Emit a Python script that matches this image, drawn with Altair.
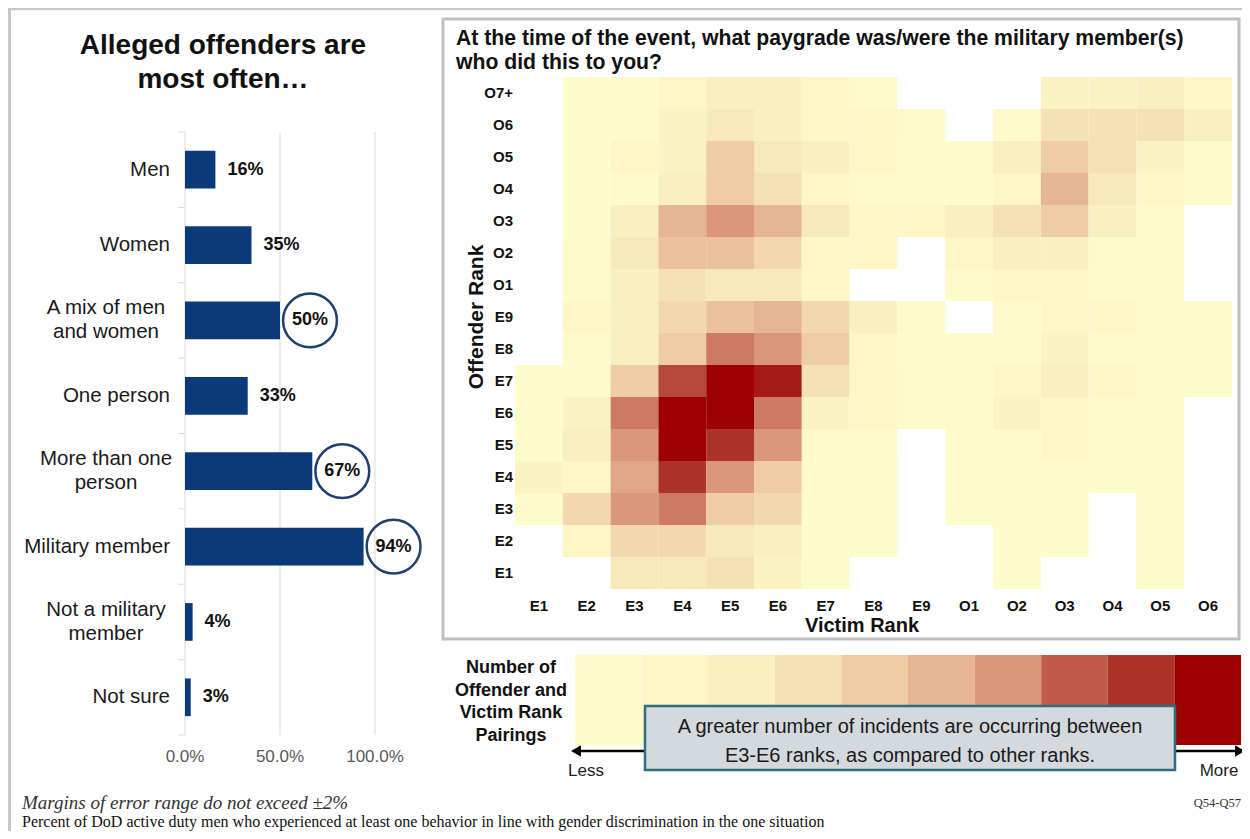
import altair as alt
import pandas as pd

# ---------------- Left panel data ----------------
CATEGORIES = ["Men", "Women", "A mix of men and women", "One person",
              "More than one person", "Military member", "Not a military member", "Not sure"]
CATEGORY_LABELS = ["Men", "Women", "A mix of men\nand women", "One person",
                   "More than one\nperson", "Military member", "Not a military\nmember", "Not sure"]
PERCENTS = [16, 35, 50, 33, 67, 94, 4, 3]
CIRCLED = ["A mix of men and women", "More than one person", "Military member"]
AXIS_VALUES = [0, 50, 100]
AXIS_LABELS = ["0.0%", "50.0%", "100.0%"]

# ---------------- Heatmap data ----------------
VICTIM_RANKS = ["E1", "E2", "E3", "E4", "E5", "E6", "E7", "E8", "E9",
                "O1", "O2", "O3", "O4", "O5", "O6"]
OFFENDER_RANKS = ["O7+", "O6", "O5", "O4", "O3", "O2", "O1", "E9",
                  "E8", "E7", "E6", "E5", "E4", "E3", "E2", "E1"]
# relative pairing intensity (1 = least ... 10 = most, 0 = none), columns E1..O6
ROW_O7P = [0, 1, 1, 2, 3, 3, 2, 1.5, 0, 0, 0, 2.5, 2.5, 3, 2]
ROW_O6 = [0, 1, 1, 2.5, 3.5, 3, 2, 2, 1.5, 0, 1.5, 4, 4, 4, 3]
ROW_O5 = [0, 1, 2, 2.5, 5, 3.5, 3, 2, 1, 1, 3, 5, 4, 2.5, 1.5]
ROW_O4 = [0, 1, 1.5, 3, 5, 4, 2, 1.5, 1, 1, 2, 6, 3.5, 2, 1.5]
ROW_O3 = [0, 1, 3, 6, 7, 6, 3.5, 2, 2, 3, 4, 5, 3, 1.5, 0]
ROW_O2 = [0, 1.5, 3.5, 5.5, 5.5, 4.5, 2, 2, 0, 2, 3, 3, 1.5, 1.5, 0]
ROW_O1 = [0, 1.5, 3, 4, 3.5, 3.5, 2, 0, 0, 1.5, 2, 2, 1.5, 1.5, 0]
ROW_E9 = [0, 2, 3, 4.5, 5.5, 6, 4.5, 3, 1.5, 0, 1.5, 2, 2, 1.5, 1]
ROW_E8 = [0, 1.5, 3, 5, 7.5, 7, 5, 2, 1, 1, 1.5, 2.5, 1.5, 1.5, 1]
ROW_E7 = [1, 1.5, 5, 8.5, 10, 9.5, 4, 2, 1.5, 1, 2, 3, 2, 1.5, 1]
ROW_E6 = [1, 2.5, 7.5, 10, 10, 7.5, 2.5, 2, 1.5, 1.5, 2.5, 2, 1.5, 1.5, 0]
ROW_E5 = [1, 3, 7, 10, 9, 7, 1.5, 1.5, 0, 1, 1.5, 2, 1.5, 1.5, 0]
ROW_E4 = [2.5, 2, 6.5, 9, 7, 5, 1.5, 1, 0, 1, 1, 1, 1, 1, 0]
ROW_E3 = [1, 4.5, 7, 7.5, 5, 4.5, 1, 1, 0, 1, 1, 1, 0, 1, 0]
ROW_E2 = [0, 2, 4.5, 4.5, 3.5, 3, 1, 1, 0, 0, 1, 1, 0, 1, 0]
ROW_E1 = [0, 0, 3.5, 3.5, 4, 2.5, 1, 0, 0, 0, 1, 0, 0, 1, 0]
ROWS = [ROW_O7P, ROW_O6, ROW_O5, ROW_O4, ROW_O3, ROW_O2, ROW_O1, ROW_E9,
        ROW_E8, ROW_E7, ROW_E6, ROW_E5, ROW_E4, ROW_E3, ROW_E2, ROW_E1]

LEGEND_LEVELS = [1, 2, 3, 4, 5, 6, 7, 8, 9, 10]
COLORS = ["#FFFCCC", "#FEF7C5", "#FAEFBF", "#F5E2B3", "#EFCDA3",
          "#E6B593", "#DA9879", "#C05C47", "#AC3328", "#9E0000"]

# ---------------- Build tables ----------------
bars_df = pd.DataFrame({"category": CATEGORIES, "label": CATEGORY_LABELS, "pct": PERCENTS})
bars_df["circled"] = bars_df["category"].isin(CIRCLED)
bars_df["text"] = bars_df["pct"].astype(str) + "%"
bars_df["twoline"] = bars_df["label"].str.contains("\n")
axis_df = pd.DataFrame({"v": AXIS_VALUES, "label": AXIS_LABELS})
bound_df = pd.DataFrame({"i": list(range(len(CATEGORIES) + 1))})

heat_records = []
for off, row in zip(OFFENDER_RANKS, ROWS):
    for vic, val in zip(VICTIM_RANKS, row):
        if val > 0:
            heat_records.append({"offender": off, "victim": vic, "level": val})
heat_df = pd.DataFrame(heat_records)
vic_df = pd.DataFrame({"victim": VICTIM_RANKS})
off_df = pd.DataFrame({"offender": OFFENDER_RANKS})
leg_df = pd.DataFrame({"level": LEGEND_LEVELS})
DUMMY = pd.DataFrame({"d": [0]})

NAVY = "#0b3a7a"
FONT = "Liberation Sans"
SERIF = "Liberation Serif"


def P(v):
    return v - 8


def static_text(text, x, y, **kw):
    kw.setdefault("baseline", "alphabetic")
    return alt.Chart(DUMMY).mark_text(text=text, **kw).encode(
        x=alt.value(P(x)), y=alt.value(P(y)))


def static_rule(x1, y1, x2, y2, color, width):
    return alt.Chart(DUMMY).mark_rule(color=color, strokeWidth=width).encode(
        x=alt.value(P(x1)), x2=alt.value(P(x2)), y=alt.value(P(y1)), y2=alt.value(P(y2)))


bx = alt.Scale(domain=[0, 100], range=[177, 367])
by = alt.Scale(domain=CATEGORIES, range=[124, 727], paddingInner=0.5, paddingOuter=0.25)
hx = alt.Scale(domain=VICTIM_RANKS, range=[507, 1224], paddingInner=0, paddingOuter=0)
hy = alt.Scale(domain=OFFENDER_RANKS, range=[69, 581], paddingInner=0, paddingOuter=0)
cscale = alt.Scale(domain=LEGEND_LEVELS, range=COLORS, interpolate="rgb")

layers = []

# frame lines
layers.append(static_rule(8, 9, 1250, 9, "#c8c8c8", 2.5))
layers.append(static_rule(9.5, 9, 9.5, 839, "#c8c8c8", 3))

# ---- left panel ----
layers.append(static_text(["Alleged offenders are", "most often…"], 223, 54,
                          font=FONT, fontSize=28, fontWeight="bold", align="center",
                          lineHeight=34, color="#111111"))

layers.append(alt.Chart(axis_df).mark_rule(color="#d9d9d9", strokeWidth=1).encode(
    x=alt.X("v:Q", scale=bx, axis=None),
    y=alt.value(P(132)), y2=alt.value(P(735))))

layers.append(alt.Chart(bound_df).mark_rule(color="#d9d9d9", strokeWidth=1).encode(
    y=alt.Y("i:Q", scale=alt.Scale(domain=[0, len(CATEGORIES)], range=[124, 727]), axis=None),
    x=alt.value(P(178)), x2=alt.value(P(185))))

layers.append(alt.Chart(bars_df).mark_bar(color=NAVY).encode(
    x=alt.X("pct:Q", scale=bx, axis=None),
    y=alt.Y("category:N", scale=by, axis=None)))

layers.append(alt.Chart(bars_df).transform_filter("!datum.twoline").mark_text(
    align="right", baseline="middle", font=FONT, fontSize=20.5, color="#1a1a1a").encode(
    x=alt.value(P(170)),
    y=alt.Y("category:N", scale=by, axis=None),
    text="label:N"))

layers.append(alt.Chart(bars_df).transform_filter("datum.twoline").mark_text(
    align="center", baseline="middle", lineBreak="\n", font=FONT, fontSize=20.5,
    lineHeight=24, dy=-12, color="#1a1a1a").encode(
    x=alt.value(P(106)),
    y=alt.Y("category:N", scale=by, axis=None),
    text="label:N"))

layers.append(alt.Chart(bars_df).transform_filter("!datum.circled").mark_text(
    align="left", baseline="middle", dx=12, font=FONT, fontSize=18, fontWeight="bold",
    color="#111111").encode(
    x=alt.X("pct:Q", scale=bx, axis=None),
    y=alt.Y("category:N", scale=by, axis=None),
    text="text:N"))

layers.append(alt.Chart(bars_df).transform_filter("datum.circled").mark_text(
    align="center", baseline="middle", dx=30, font=FONT, fontSize=18, fontWeight="bold",
    color="#111111").encode(
    x=alt.X("pct:Q", scale=bx, axis=None),
    y=alt.Y("category:N", scale=by, axis=None),
    text="text:N"))

layers.append(alt.Chart(bars_df).transform_filter("datum.circled").mark_point(
    shape="circle", filled=False, size=2900, strokeWidth=2.5, color="#1f3f6e",
    opacity=1).encode(
    x=alt.X("pct:Q", scale=bx, axis=None),
    y=alt.Y("category:N", scale=by, axis=None),
    xOffset=alt.value(30)))

layers.append(alt.Chart(axis_df).mark_text(
    align="center", baseline="middle", font=FONT, fontSize=17, color="#595959").encode(
    x=alt.X("v:Q", scale=bx, axis=None),
    y=alt.value(P(757)),
    text="label:N"))

# ---- heatmap panel ----
layers.append(alt.Chart(DUMMY).mark_rect(fillOpacity=0, stroke="#bfbfbf", strokeWidth=3).encode(
    x=alt.value(P(443)), x2=alt.value(P(1239)), y=alt.value(P(19)), y2=alt.value(P(639))))

layers.append(static_text(["At the time of the event, what paygrade was/were the military member(s)",
                           "who did this to you?"], 456, 45,
                          font=FONT, fontSize=21.2, fontWeight="bold", align="left",
                          lineHeight=24, color="#111111"))

layers.append(alt.Chart(heat_df).mark_rect().encode(
    x=alt.X("victim:N", scale=hx, axis=None),
    y=alt.Y("offender:N", scale=hy, axis=None),
    color=alt.Color("level:Q", scale=cscale, legend=None)))

layers.append(alt.Chart(off_df).mark_text(
    align="right", baseline="middle", font=FONT, fontSize=15, fontWeight="bold",
    color="#111111").encode(
    x=alt.value(P(513)),
    y=alt.Y("offender:N", scale=hy, axis=None),
    text="offender:N"))

layers.append(alt.Chart(vic_df).mark_text(
    align="center", baseline="middle", font=FONT, fontSize=15, fontWeight="bold",
    color="#111111").encode(
    x=alt.X("victim:N", scale=hx, axis=None),
    y=alt.value(P(606)),
    text="victim:N"))

layers.append(static_text("Offender Rank", 477, 317, font=FONT, fontSize=21, fontWeight="bold",
                          align="center", baseline="middle", angle=270, color="#111111"))
layers.append(static_text("Victim Rank", 862, 626, font=FONT, fontSize=20, fontWeight="bold",
                          align="center", baseline="middle", color="#111111"))

# ---- legend ----
layers.append(static_text(["Number of", "Offender and", "Victim Rank", "Pairings"], 511, 673,
                          font=FONT, fontSize=18, fontWeight="bold", align="center",
                          lineHeight=22.7, color="#111111"))

layers.append(alt.Chart(leg_df).mark_rect().encode(
    x=alt.X("level:N", scale=alt.Scale(domain=LEGEND_LEVELS, range=[567, 1233],
                                       paddingInner=0, paddingOuter=0), axis=None),
    y=alt.value(P(655)), y2=alt.value(P(745)),
    color=alt.Color("level:Q", scale=cscale, legend=None)))

layers.append(static_rule(578, 751, 1238, 751, "#000000", 2.5))
layers.append(alt.Chart(DUMMY).mark_point(shape="triangle-left", filled=True, size=130,
                                           color="#000000", opacity=1).encode(
    x=alt.value(P(576)), y=alt.value(P(751))))
layers.append(alt.Chart(DUMMY).mark_point(shape="triangle-right", filled=True, size=130,
                                           color="#000000", opacity=1).encode(
    x=alt.value(P(1240)), y=alt.value(P(751))))
layers.append(static_text("Less", 586, 771, font=FONT, fontSize=17, align="center",
                          baseline="middle", color="#222222"))
layers.append(static_text("More", 1219, 771, font=FONT, fontSize=17, align="center",
                          baseline="middle", color="#222222"))

layers.append(alt.Chart(DUMMY).mark_rect(fill="#d3d9dd", stroke="#2e6e7e", strokeWidth=2.5).encode(
    x=alt.value(P(645)), x2=alt.value(P(1175)), y=alt.value(P(706)), y2=alt.value(P(770))))
layers.append(static_text(["A greater number of incidents are occurring between",
                           "E3-E6 ranks, as compared to other ranks."], 910, 733,
                          font=FONT, fontSize=20, align="center", lineHeight=29,
                          color="#1a1a1a"))

# ---- footnotes ----
layers.append(static_text("Margins of error range do not exceed ±2%", 22, 809,
                          font=SERIF, fontSize=19, fontStyle="italic", align="left",
                          color="#333333"))
layers.append(static_text("Percent of DoD active duty men who experienced at least one behavior "
                          "in line with gender discrimination  in the one situation", 22, 827,
                          font=SERIF, fontSize=16, align="left", color="#111111"))
layers.append(static_text("Q54-Q57", 1241, 807, font=SERIF, fontSize=12.5, align="right",
                          color="#333333"))

chart = alt.layer(*layers).resolve_scale(
    x="independent", y="independent", color="independent"
).properties(
    width=1234, height=823, autosize=alt.AutoSizeParams(type="none"), padding=0
).configure_view(stroke=None)

chart.save("out.html", embed_options={"renderer": "svg", "actions": False})
